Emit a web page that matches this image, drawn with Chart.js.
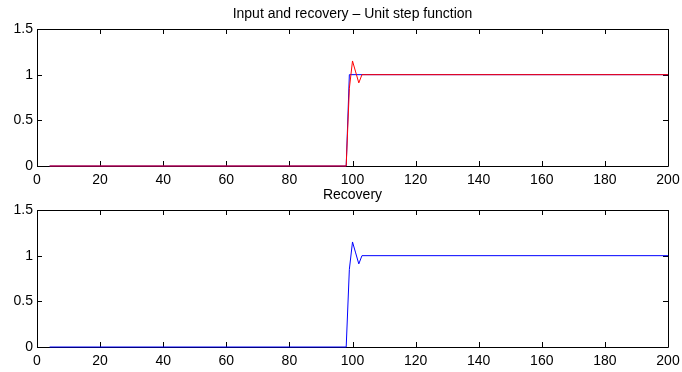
<!DOCTYPE html>
<html>
<head>
<meta charset="utf-8">
<script src="https://cdn.jsdelivr.net/npm/chart.js@4/dist/chart.umd.min.js"></script>
<style>
  html, body { margin: 0; padding: 0; background: #fff; }
  canvas { display: block; }
</style>
</head>
<body>
<canvas id="top_chart" width="682" height="186"></canvas>
<canvas id="bottom_chart" width="682" height="186"></canvas>
<script>
// sample positions where the signals change (straight lines in between)
var inputX = [4, 98, 99, 200];
var inputY = [0, 0, 1, 1];
var recoveryX = [4, 98, 99, 100, 101, 102, 103, 200];
var recoveryY = [0, 0, 0.85, 1.15, 1.03, 0.91, 1, 1];
var xTicks = [0, 20, 40, 60, 80, 100, 120, 140, 160, 180, 200];
var yTicks = [0, 0.5, 1, 1.5];

function toPoints(xs, ys) {
    return xs.map(function (v, i) { return { x: v, y: ys[i] }; });
}

var fontFamily = '"Liberation Sans", Arial, Helvetica, sans-serif';
var fontSize = 14;

// matlab style box with ticks pointing inwards + title centred on the axes
var boxPlugin = {
    id: 'box',
    beforeDatasetsDraw: function (chart, args, opts) {
        var ctx = chart.ctx;
        var a = chart.chartArea;
        var x = chart.scales.x;
        var y = chart.scales.y;
        ctx.save();
        ctx.strokeStyle = '#000';
        ctx.lineWidth = 1;
        ctx.beginPath();
        ctx.rect(Math.round(a.left) + 0.5, Math.round(a.top) + 0.5,
            Math.round(a.right - a.left), Math.round(a.bottom - a.top));
        xTicks.forEach(function (t) {
            var px = Math.round(x.getPixelForValue(t)) + 0.5;
            ctx.moveTo(px, a.bottom);
            ctx.lineTo(px, a.bottom - 5);
            ctx.moveTo(px, a.top);
            ctx.lineTo(px, a.top + 5);
        });
        yTicks.forEach(function (t) {
            var py = Math.round(y.getPixelForValue(t)) + 0.5;
            ctx.moveTo(a.left, py);
            ctx.lineTo(a.left + 5, py);
            ctx.moveTo(a.right, py);
            ctx.lineTo(a.right - 5, py);
        });
        ctx.stroke();

        ctx.fillStyle = '#000';
        ctx.font = fontSize + 'px ' + fontFamily;
        ctx.textAlign = 'center';
        ctx.textBaseline = 'alphabetic';
        ctx.fillText(opts.text, (a.left + a.right) / 2, opts.baseline);
        ctx.restore();
    }
};

function makeOptions(titleText, baseline, top, xHeight) {
    return {
        responsive: false,
        animation: false,
        layout: { padding: { left: 0, right: 14, top: top, bottom: 0 } },
        plugins: {
            legend: { display: false },
            tooltip: { enabled: false },
            title: { display: false },
            box: { text: titleText, baseline: baseline }
        },
        elements: {
            point: { radius: 0 },
            line: { tension: 0, borderWidth: 1 }
        },
        scales: {
            x: {
                type: 'linear',
                min: 0,
                max: 200,
                afterFit: function (scale) {
                    scale.height = xHeight;
                    scale.paddingLeft = 0;
                    scale.paddingRight = 0;
                },
                afterBuildTicks: function (scale) {
                    scale.ticks = xTicks.map(function (v) { return { value: v }; });
                },
                grid: { display: false, drawTicks: false },
                border: { display: false },
                ticks: {
                    color: '#000',
                    padding: 6,
                    maxRotation: 0,
                    font: { family: fontFamily, size: fontSize }
                }
            },
            y: {
                min: 0,
                max: 1.5,
                afterFit: function (scale) {
                    scale.width = 37;
                    scale.paddingTop = 0;
                    scale.paddingBottom = 0;
                },
                afterBuildTicks: function (scale) {
                    scale.ticks = yTicks.map(function (v) { return { value: v }; });
                },
                grid: { display: false, drawTicks: false },
                border: { display: false },
                ticks: {
                    color: '#000',
                    padding: 4,
                    font: { family: fontFamily, size: fontSize },
                    callback: function (v) { return String(v); }
                }
            }
        }
    };
}

var topChart = new Chart(document.getElementById('top_chart'), {
    type: 'line',
    data: {
        datasets: [{
            label: 'Input',
            data: toPoints(inputX, inputY),
            borderColor: '#0000ff',
            clip: false,
            order: 1
        }, {
            label: 'Recovery',
            data: toPoints(recoveryX, recoveryY),
            borderColor: '#ff0000',
            clip: false,
            order: 0
        }]
    },
    options: makeOptions('Input and recovery \u2013 Unit step function', 18, 29, 20),
    plugins: [boxPlugin]
});

var bottomChart = new Chart(document.getElementById('bottom_chart'), {
    type: 'line',
    data: {
        datasets: [{
            label: 'Recovery',
            data: toPoints(recoveryX, recoveryY),
            borderColor: '#0000ff',
            clip: false
        }]
    },
    options: makeOptions('Recovery', 13, 24, 25),
    plugins: [boxPlugin]
});
</script>
</body>
</html>
